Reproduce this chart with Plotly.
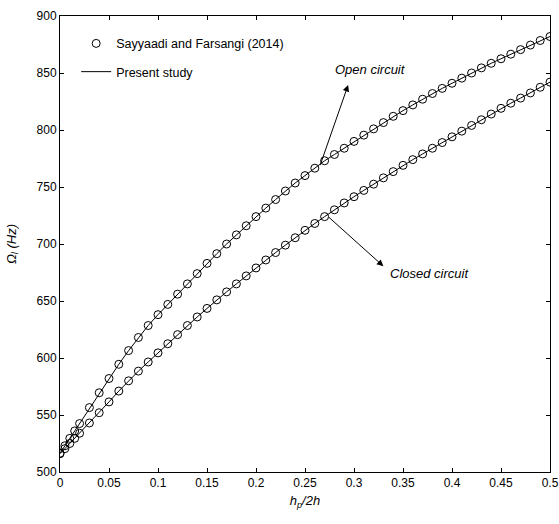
import plotly.graph_objects as go

# ---- data ----
x_vals = [0, 0.005, 0.01, 0.015, 0.02, 0.03, 0.04, 0.05, 0.06, 0.07, 0.08, 0.09,
          0.10, 0.11, 0.12, 0.13, 0.14, 0.15, 0.16, 0.17, 0.18, 0.19, 0.20, 0.21,
          0.22, 0.23, 0.24, 0.25, 0.26, 0.27, 0.28, 0.29, 0.30, 0.31, 0.32, 0.33,
          0.34, 0.35, 0.36, 0.37, 0.38, 0.39, 0.40, 0.41, 0.42, 0.43, 0.44, 0.45,
          0.46, 0.47, 0.48, 0.49, 0.50]

open_circuit = [516.5, 523, 529.5, 536, 542.5, 556.5, 569.5, 582, 594.5, 606.5, 618, 628.5,
                638, 647, 656, 665, 674, 683, 691.5, 700, 708, 716, 724, 731.5,
                739, 746.5, 753.5, 760, 766.5, 773, 778.5, 784, 790, 795.5, 801, 806.5,
                812, 817, 822, 827, 832, 836.5, 841, 845.5, 850, 854.5, 858.5, 862.5,
                866.5, 870.5, 874.5, 878.5, 882]

closed_circuit = [516, 520.5, 525, 529.5, 534, 543, 552, 561.5, 571, 580, 588.5, 596.5,
                  604.5, 612.5, 620.5, 628.5, 636, 643.5, 651, 658, 665, 672, 679, 686,
                  692.5, 699, 705.5, 712, 718, 724, 730, 736, 741.5, 747, 752.5, 758,
                  763.5, 769, 774, 779, 784, 789, 794, 799, 804, 809, 814, 819,
                  823.5, 828, 832.5, 837.5, 842]

x_ticks = [0, 0.05, 0.1, 0.15, 0.2, 0.25, 0.3, 0.35, 0.4, 0.45, 0.5]
x_tick_text = ["0", "0.05", "0.1", "0.15", "0.2", "0.25", "0.3", "0.35", "0.4", "0.45", "0.5"]
y_ticks = [500, 550, 600, 650, 700, 750, 800, 850, 900]

FONT = "Liberation Sans, Arial, sans-serif"

fig = go.Figure()

# Markers: reference data
fig.add_trace(go.Scatter(x=x_vals, y=open_circuit, mode="markers",
                         marker=dict(symbol="circle-open", size=8, color="black", line=dict(width=1)),
                         name="Sayyaadi and Farsangi (2014)", legendgroup="a", showlegend=True))
fig.add_trace(go.Scatter(x=x_vals, y=closed_circuit, mode="markers",
                         marker=dict(symbol="circle-open", size=8, color="black", line=dict(width=1)),
                         name="Sayyaadi and Farsangi (2014)", legendgroup="a", showlegend=False))
# Lines: present study
fig.add_trace(go.Scatter(x=x_vals, y=open_circuit, mode="lines",
                         line=dict(color="black", width=1),
                         name="Present study", legendgroup="b", showlegend=True))
fig.add_trace(go.Scatter(x=x_vals, y=closed_circuit, mode="lines",
                         line=dict(color="black", width=1),
                         name="Present study", legendgroup="b", showlegend=False))

axis_common = dict(showline=True, linecolor="black", linewidth=1, mirror="ticks",
                   ticks="inside", ticklen=4, tickcolor="black", showgrid=False,
                   zeroline=False, automargin=False,
                   tickfont=dict(family=FONT, size=12, color="black"))

fig.update_layout(
    width=559, height=524,
    margin=dict(l=60, r=9, t=16, b=52),
    paper_bgcolor="white", plot_bgcolor="white",
    font=dict(family=FONT, color="black"),
    xaxis=dict(range=[0, 0.5], tickvals=x_ticks, ticktext=x_tick_text,
               title=dict(text="<i>h<sub>p</sub>/2h</i>", font=dict(size=13), standoff=6),
               **axis_common),
    yaxis=dict(range=[500, 900], tickvals=y_ticks,
               title=dict(text="<i>Ω<sub>l</sub> (Hz)</i>", font=dict(size=13), standoff=17),
               **axis_common),
    legend=dict(x=0.033, y=0.972, xanchor="left", yanchor="top",
                bgcolor="rgba(0,0,0,0)", font=dict(size=12.5, family=FONT),
                traceorder="grouped", tracegroupgap=9, itemwidth=30),
    showlegend=True,
)

# Arrows
fig.add_annotation(x=0.294, y=839.5, ax=0.265, ay=768, xref="x", yref="y", axref="x", ayref="y",
                   showarrow=True, arrowhead=2, arrowsize=1.3, arrowwidth=1, arrowcolor="black", text="")
fig.add_annotation(x=0.330, y=680.5, ax=0.273, ay=724.5, xref="x", yref="y", axref="x", ayref="y",
                   showarrow=True, arrowhead=2, arrowsize=1.3, arrowwidth=1, arrowcolor="black", text="")
# Labels
fig.add_annotation(x=0.279, y=853, xref="x", yref="y", text="<i>Open circuit</i>", showarrow=False,
                   xanchor="left", yanchor="middle", font=dict(size=13, family=FONT))
fig.add_annotation(x=0.335, y=674.5, xref="x", yref="y", text="<i>Closed circuit</i>", showarrow=False,
                   xanchor="left", yanchor="middle", font=dict(size=13, family=FONT))

fig.write_html("out.html")
